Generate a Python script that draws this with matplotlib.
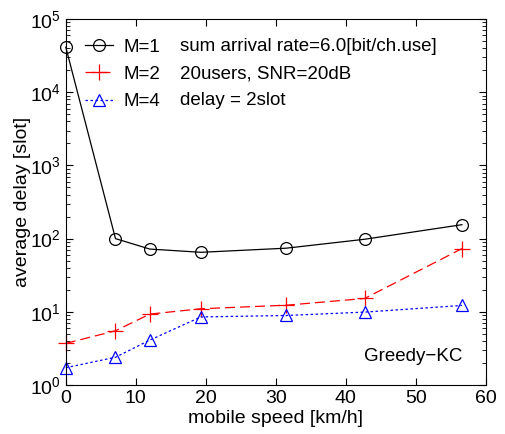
import matplotlib
matplotlib.use('Agg')
import matplotlib.pyplot as plt

# data
speed = [0, 7.1, 12.0, 19.3, 31.5, 42.7, 56.6]
delay_m1 = [41400, 100, 72, 65, 74, 98, 155]
delay_m2 = [3.7, 5.5, 9.3, 11, 12.3, 15.2, 73]
delay_m4 = [1.72, 2.39, 4.1, 8.5, 8.9, 9.9, 12.2]
labels = ['M=1', 'M=2', 'M=4']
notes = ['sum arrival rate=6.0[bit/ch.use]', '20users, SNR=20dB', 'delay = 2slot']

plt.rcParams['font.family'] = ['Liberation Sans', 'DejaVu Sans']
plt.rcParams['font.size'] = 13.5

fig = plt.figure(figsize=(5.06, 4.34), dpi=100)
ax = fig.add_axes([0.130, 0.113, 0.830, 0.843])

ax.plot(speed, delay_m1, color='black', ls='-', lw=0.9, marker='o', ms=8.5,
        mfc='none', mec='black', mew=0.9, label=labels[0], clip_on=False)
ax.plot(speed, delay_m2, color='red', ls=(0, (8, 4)), lw=0.9, marker='+', ms=11,
        mew=0.9, label=labels[1], clip_on=False)
ax.plot(speed, delay_m4, color='blue', ls=(0, (2, 2)), lw=0.9, marker='^', ms=8.5,
        mfc='none', mec='blue', mew=0.9, label=labels[2], clip_on=False)

ax.set_yscale('log')
ax.set_xlim(0, 60)
ax.set_ylim(1, 1e5)
ax.set_xticks([0, 10, 20, 30, 40, 50, 60])
ax.set_yticks([1, 10, 100, 1e3, 1e4, 1e5])
ax.tick_params(which='both', direction='in', top=True, right=True, labelsize=14)
ax.tick_params(which='major', length=5)
ax.tick_params(which='minor', length=3)
ax.set_xlabel('mobile speed [km/h]', fontsize=14, labelpad=2)
ax.set_ylabel('average delay [slot]', fontsize=14, labelpad=-1)

leg = ax.legend(loc='upper left', frameon=False, fontsize=13.5, handlelength=1.5,
                handletextpad=0.55, borderpad=0, borderaxespad=0,
                labelspacing=0.55, bbox_to_anchor=(0.045, 0.947))
for i, n in enumerate(notes):
    ax.text(0.271, 0.924 - i * 0.073, n, transform=ax.transAxes, fontsize=13.5, va='center')

ax.text(0.944, 0.077, 'Greedy\u2212KC', transform=ax.transAxes, fontsize=13.5,
        ha='right', va='center')

fig.savefig('out.png', dpi=100)
